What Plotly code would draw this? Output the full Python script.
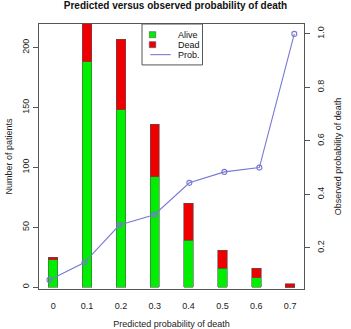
import plotly.graph_objects as go

categories = ["0", "0.1", "0.2", "0.3", "0.4", "0.5", "0.6", "0.7"]
alive = [23, 188, 148, 92, 39, 16, 8, 0]
dead = [2, 32, 59, 44, 31, 15, 8, 3]
observed_prob = [0.08, 0.145, 0.285, 0.324, 0.443, 0.484, 0.5, 1.0]
left_ticks = [0, 50, 100, 150, 200]
right_ticks = [0.2, 0.4, 0.6, 0.8, 1.0]
right_tick_labels = ["0.2", "0.4", "0.6", "0.8", "1.0"]
legend_labels = ["Alive", "Dead", "Prob."]

idx = list(range(len(categories)))
FONT = "Liberation Sans, Arial, sans-serif"
GREEN = "#00EE00"
RED = "#EE0000"
LINE = "#7878D4"
EDGE = "#555555"

W, H = 351, 329
L, R, T, B = 38.5, 47, 24, 39.5
PW, PH = W - L - R, H - T - B


def px(xp):
    return (xp - L) / PW


def py(yp):
    return 1 - (yp - T) / PH


fig = go.Figure()
fig.add_trace(go.Bar(x=idx, y=alive, name=legend_labels[0], width=0.28,
                     marker=dict(color=GREEN, line=dict(color=EDGE, width=0.6))))
fig.add_trace(go.Bar(x=idx, y=dead, name=legend_labels[1], width=0.28,
                     marker=dict(color=RED, line=dict(color=EDGE, width=0.6))))
fig.add_trace(go.Scatter(x=idx, y=observed_prob, name=legend_labels[2], mode="lines+markers",
                         line=dict(color=LINE, width=1.1),
                         marker=dict(symbol="circle-open", size=5, color=LINE,
                                     line=dict(width=1.1, color=LINE)),
                         xaxis="x2", yaxis="y2"))

# manual legend (R-style compact box)
shapes = [dict(type="rect", xref="paper", yref="paper",
               x0=px(141.7), x1=px(202.3), y0=py(65), y1=py(24),
               line=dict(color=EDGE, width=1), fillcolor="white", layer="above")]
row_y = [34.7, 44.7, 54.7]
for yy, col in zip(row_y[:2], [GREEN, RED]):
    shapes.append(dict(type="rect", xref="paper", yref="paper",
                       x0=px(149), x1=px(155.5), y0=py(yy + 3), y1=py(yy - 3),
                       line=dict(color=EDGE, width=0.6), fillcolor=col, layer="above"))
shapes.append(dict(type="line", xref="paper", yref="paper",
                   x0=px(150), x1=px(170.5), y0=py(row_y[2]), y1=py(row_y[2]),
                   line=dict(color=LINE, width=1.1), layer="above"))
annotations = []
for yy, lab in zip(row_y, legend_labels):
    annotations.append(dict(xref="paper", yref="paper", x=px(176.5), y=py(yy),
                            xanchor="left", yanchor="middle", text=lab,
                            showarrow=False, borderpad=0,
                            font=dict(size=9, color="#111111")))

fig.update_layout(
    width=W, height=H,
    margin=dict(l=L, r=R, t=T, b=B, autoexpand=False),
    barmode="stack",
    showlegend=False,
    plot_bgcolor="white", paper_bgcolor="white",
    font=dict(family=FONT, size=9, color="#222222"),
    title=dict(text="<b>Predicted versus observed probability of death</b>",
               x=0.5, xanchor="center", y=0.982, yanchor="middle",
               font=dict(size=10, color="#111111")),
    xaxis=dict(range=[-0.42, 7.41], tickmode="array", tickvals=idx, ticktext=categories,
               showgrid=False, zeroline=False, ticks="", showline=True, mirror=True,
               linecolor=EDGE, linewidth=1, ticklabelstandoff=8, automargin=False,
               title=dict(text="Predicted probability of death", standoff=10,
                          font=dict(size=9))),
    xaxis2=dict(range=[-0.30, 7.277], overlaying="x", visible=False),
    yaxis=dict(range=[-1.5, 219.7], tickvals=left_ticks, tickangle=-90,
               showgrid=False, zeroline=False, ticks="outside", ticklen=5,
               tickcolor=EDGE, showline=True, mirror=True, automargin=False,
               linecolor=EDGE, linewidth=1,
               title=dict(text="Number of patients", standoff=7, font=dict(size=9))),
    yaxis2=dict(range=[0.046, 1.037], overlaying="y", side="right",
                tickvals=right_ticks, ticktext=right_tick_labels, tickangle=-90,
                showgrid=False, zeroline=False, ticks="outside", ticklen=5,
                tickcolor=EDGE, showline=False, ticklabelstandoff=3, automargin=False,
                title=dict(text="Observed probability of death", standoff=9,
                           font=dict(size=9))),
    shapes=shapes,
    annotations=annotations,
)

fig.write_html("out.html")
